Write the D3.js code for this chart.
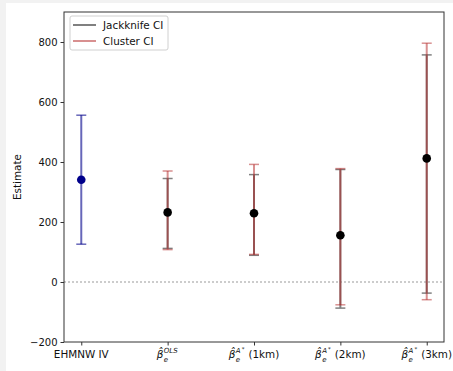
<!DOCTYPE html>
<html>
<head>
<meta charset="utf-8">
<script src="https://cdn.jsdelivr.net/npm/d3@7"></script>
<style>
  html, body { margin: 0; padding: 0; background: #f2f2f2; }
  svg { display: block; }
  text { font-family: "DejaVu Sans", sans-serif; fill: #111; }
</style>
</head>
<body>
<svg id="chart" width="453" height="371"></svg>
<script>
// ---- data ----
const categories = ["EHMNW IV", "OLS", "1km", "2km", "3km"];
const estimates = [341, 232, 229, 156, 412];
const ivLow = [126];
const ivHigh = [556];
const jackLow = [null, 112, 89, -87, -37];
const jackHigh = [null, 345, 358, 375, 757];
const clusterLow = [null, 108, 92, -76, -59];
const clusterHigh = [null, 370, 392, 378, 796];
const yTicks = [-200, 0, 200, 400, 600, 800];
const supLabels = [null, "OLS", "A", "A", "A"];
const suffixLabels = [null, "", "(1km)", "(2km)", "(3km)"];
const legendLabels = ["Jackknife CI", "Cluster CI"];

// ---- layout ----
const W = 453, H = 371;
const mL = 64, mR = 444, mT = 12, mB = 342;
const svg = d3.select("#chart");
svg.append("rect").attr("x", 6).attr("y", 3).attr("width", W - 6).attr("height", H - 3).attr("fill", "#ffffff");

const x = d3.scaleLinear().domain([-0.2, 4.2]).range([mL, mR]);
const y = d3.scaleLinear().domain([-200, 900]).range([mB, mT]);

const jackColor = "#808080";
const clusterColor = "rgba(178,34,34,0.5)";
const ivColor = "rgba(0,0,139,0.6)";
const capW = 5;

// zero line
svg.append("line")
  .attr("x1", mL).attr("x2", mR).attr("y1", y(0)).attr("y2", y(0))
  .attr("stroke", "#999").attr("stroke-width", 1).attr("stroke-dasharray", "2,2");

function errorbar(i, lo, hi, color, lw) {
  const g = svg.append("g");
  const cx = x(i);
  g.append("line").attr("x1", cx).attr("x2", cx).attr("y1", y(lo)).attr("y2", y(hi))
    .attr("stroke", color).attr("stroke-width", lw);
  [lo, hi].forEach(v => {
    g.append("line").attr("x1", cx - capW).attr("x2", cx + capW).attr("y1", y(v)).attr("y2", y(v))
      .attr("stroke", color).attr("stroke-width", 1.5);
  });
}

// IV bar
errorbar(0, ivLow[0], ivHigh[0], ivColor, 2);
// jackknife then cluster
categories.forEach((c, i) => {
  if (jackLow[i] !== null) errorbar(i, jackLow[i], jackHigh[i], jackColor, 2);
});
categories.forEach((c, i) => {
  if (clusterLow[i] !== null) errorbar(i, clusterLow[i], clusterHigh[i], clusterColor, 2);
});

// points
svg.selectAll("circle.pt").data(estimates).enter().append("circle")
  .attr("class", "pt")
  .attr("cx", (d, i) => x(i)).attr("cy", d => y(d)).attr("r", 4.3)
  .attr("fill", (d, i) => i === 0 ? "#00008b" : "#000");

// axes
const yAxis = d3.axisLeft(y).tickValues(yTicks).tickSize(3.5).tickPadding(3)
  .tickFormat(d => d < 0 ? "\u2212" + Math.abs(d) : d);
const gy = svg.append("g").attr("transform", `translate(${mL},0)`).call(yAxis);
gy.select(".domain").remove();
gy.selectAll("text").attr("font-size", 10).attr("font-family", "DejaVu Sans").attr("fill", "#111");
gy.selectAll("line").attr("stroke", "#333");

const xAxis = d3.axisBottom(x).tickValues(d3.range(categories.length)).tickSize(3.5).tickFormat("");
const gx = svg.append("g").attr("transform", `translate(0,${mB})`).call(xAxis);
gx.select(".domain").remove();
gx.selectAll("line").attr("stroke", "#333");

// frame
svg.append("rect").attr("x", mL).attr("y", mT).attr("width", mR - mL).attr("height", mB - mT)
  .attr("fill", "none").attr("stroke", "#333").attr("stroke-width", 1);

// x labels
const fs = 10.4;
categories.forEach((c, i) => {
  const cx = x(i);
  if (i === 0) {
    svg.append("text").attr("x", cx).attr("y", 358).attr("text-anchor", "middle")
      .attr("font-size", fs).text(c);
    return;
  }
  const g = svg.append("g");
  const t1 = g.append("text").attr("x", 0).attr("y", 358).attr("font-size", fs)
    .attr("font-style", "italic").text("\u03B2\u0302");
  const w1 = t1.node().getComputedTextLength();
  const sup = g.append("text").attr("x", w1 + 0.5).attr("y", 352.5).attr("font-size", 7)
    .attr("font-style", "italic");
  sup.append("tspan").text(supLabels[i]);
  if (supLabels[i] === "A") {
    sup.append("tspan").attr("dx", 1).attr("dy", -1.5).attr("font-size", 5.5).attr("font-style", "normal").text("*");
  }
  const sub = g.append("text").attr("x", w1 + 0.5).attr("y", 361.5).attr("font-size", 7)
    .attr("font-style", "italic").text("e");
  const w2 = w1 + 0.5 + Math.max(sup.node().getComputedTextLength() + 1, sub.node().getComputedTextLength());
  let total = w2;
  if (suffixLabels[i]) {
    const s = g.append("text").attr("x", w2 + 4).attr("y", 358).attr("font-size", fs).text(suffixLabels[i]);
    total = w2 + 4 + s.node().getComputedTextLength();
  }
  g.attr("transform", `translate(${cx - total / 2},0)`);
});

// y label
svg.append("text").attr("transform", `translate(20.5,${(mT + mB) / 2}) rotate(-90)`)
  .attr("text-anchor", "middle").attr("font-size", fs).text("Estimate");

// legend
const lg = svg.append("g");
lg.append("rect").attr("x", 70).attr("y", 16).attr("width", 98).attr("height", 34).attr("rx", 2)
  .attr("fill", "#fff").attr("stroke", "#d0d0d0").attr("stroke-width", 1);
const legendColors = [jackColor, clusterColor];
legendLabels.forEach((l, i) => {
  const yy = 25 + i * 16;
  lg.append("line").attr("x1", 73).attr("x2", 96).attr("y1", yy).attr("y2", yy)
    .attr("stroke", legendColors[i]).attr("stroke-width", 2);
  lg.append("text").attr("x", 103).attr("y", yy + 3.7).attr("font-size", fs).text(l);
});
</script>
</body>
</html>
